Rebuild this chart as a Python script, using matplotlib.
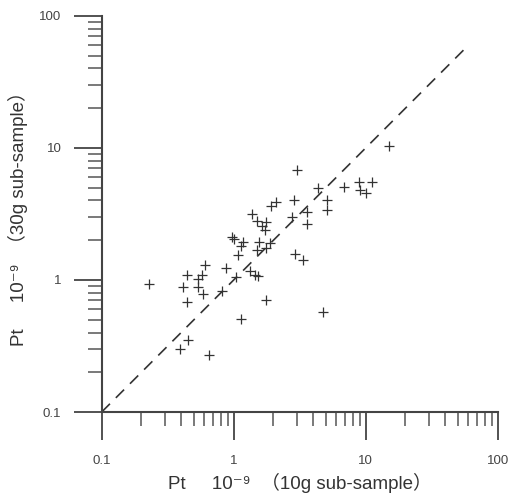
import matplotlib
matplotlib.use("Agg")
import matplotlib.pyplot as plt
from matplotlib.ticker import LogLocator, NullFormatter, FixedLocator, FixedFormatter

plt.rcParams['font.family'] = ['Liberation Sans', 'Noto Sans CJK SC', 'DejaVu Sans']

# Pt concentration (10^-9): 10g sub-sample vs 30g sub-sample
pt_10g = [0.23, 0.41, 0.44, 0.44, 0.45, 0.39, 0.65, 0.54, 0.54, 0.58,
          0.61, 0.59, 0.82, 0.87, 1.05, 1.13, 0.97, 1.00, 1.07, 1.14,
          1.17, 1.33, 1.45, 1.53, 1.75, 1.55, 1.49, 1.75, 1.89, 1.38,
          1.50, 1.63, 1.77, 1.74, 1.93, 2.09, 2.75, 2.86, 3.00, 2.91,
          3.37, 3.61, 3.61, 4.37, 5.07, 5.07, 4.77, 6.85, 8.9, 11.2,
          9.05, 10.0, 15.0]
pt_30g = [0.93, 0.89, 1.09, 0.68, 0.35, 0.30, 0.27, 1.01, 0.89, 1.10,
          1.30, 0.78, 0.83, 1.23, 1.06, 0.51, 2.13, 2.05, 1.55, 1.81,
          1.95, 1.16, 1.09, 1.07, 0.70, 1.95, 1.68, 1.74, 1.92, 3.16,
          2.80, 2.57, 2.75, 2.40, 3.62, 3.92, 2.99, 4.04, 6.81, 1.57,
          1.42, 3.29, 2.64, 4.95, 4.04, 3.39, 0.57, 5.09, 5.56, 5.50,
          4.81, 4.54, 10.4]

line_x = [0.1, 55]
ticks = [0.1, 1, 10, 100]
tick_labels = ["0.1", "1", "10", "100"]

fig = plt.figure(figsize=(5.11, 4.97), dpi=100)
ax = fig.add_axes([0.199, 0.171, 0.775, 0.797])

ax.plot(line_x, line_x, color="#333333", lw=1.2, dashes=(7, 5))
ax.plot(pt_10g, pt_30g, ls="none", marker="+", ms=7, mew=0.9, color="#333333")

ax.set_xscale("log")
ax.set_yscale("log")
ax.set_xlim(0.1, 100)
ax.set_ylim(0.1, 100)

for a in (ax.xaxis, ax.yaxis):
    a.set_major_locator(FixedLocator(ticks))
    a.set_major_formatter(FixedFormatter(tick_labels))
    a.set_minor_locator(LogLocator(base=10, subs=range(2, 10)))
    a.set_minor_formatter(NullFormatter())

for s in ("top", "right"):
    ax.spines[s].set_visible(False)
for s in ("left", "bottom"):
    ax.spines[s].set_color("#444444")
    ax.spines[s].set_linewidth(1.5)

ax.tick_params(which="major", direction="out", length=20, width=1.3,
               color="#444444", labelsize=9.5, labelcolor="#444444")
ax.tick_params(axis="y", which="major", pad=9)
ax.tick_params(axis="x", which="major", pad=11)
ax.tick_params(which="minor", direction="out", length=10, width=1.1, color="#555555")

ax.set_xlabel("Pt     10⁻⁹  （10g sub-sample）", fontsize=13.5, color="#333333", labelpad=4)
ax.set_ylabel("Pt     10⁻⁹  （30g sub-sample）", fontsize=13.5, color="#333333", labelpad=8)

fig.savefig("out.png", dpi=100)
